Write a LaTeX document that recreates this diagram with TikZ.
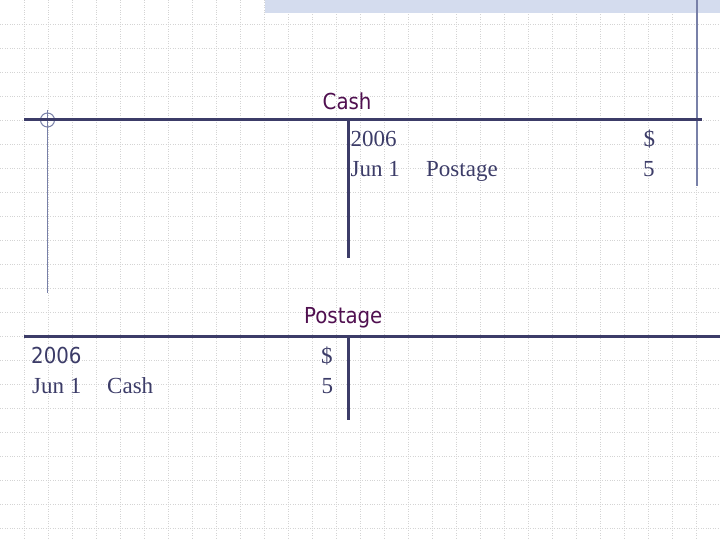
\documentclass[tikz,border=0pt]{standalone}
\usepackage{fontspec}
\setmainfont{Liberation Serif}
\newfontfamily\titlefont{DejaVu Sans Condensed}
\definecolor{navy}{RGB}{60,60,104}
\definecolor{ttl}{RGB}{80,16,80}
\definecolor{thin}{RGB}{120,128,168}
\definecolor{band}{RGB}{212,220,238}
\definecolor{gridc}{RGB}{212,212,212}
\tikzset{
  gridline/.style={draw=gridc, line width=0.6pt, dash pattern=on 1pt off 1.4pt},
  tline/.style={draw=navy, line width=3pt},
  thinline/.style={draw=thin, line width=1.3pt},
  title/.style={inner sep=0pt, anchor=base west, text=ttl, font=\titlefont\fontsize{22}{26}\selectfont},
  entry/.style={inner sep=0pt, anchor=base west, text=navy, font=\fontsize{23}{28}\selectfont},
  sentry/.style={inner sep=0pt, anchor=base west, text=navy, font=\titlefont\fontsize{22}{26}\selectfont}
}
\begin{document}
\begin{tikzpicture}[x=1pt,y=-1pt]
\useasboundingbox (0,0) rectangle (720,540);
% background grid
\foreach \i in {24,48,...,696} \draw[gridline] (\i,0) -- (\i,540);
\foreach \j in {24,48,...,528} \draw[gridline] (0,\j) -- (720,\j);
% top band
\fill[band] (265,0) rectangle (720,13);
% decorative thin lines
\draw[thinline] (697,0) -- (697,186);
\draw[thinline] (47.5,110) -- (47.5,293);
\draw[thinline, line width=1pt] (47.5,120) circle (7);
% Cash T-account
\node[title] (cashT) at (322.5,110) {Cash};
\draw[tline] (24,120) -- (702,120);
\draw[tline] (348,120) -- (348,258);
\node[entry] (c1) at (350.5,147) {2006};
\node[entry] (c2) at (350.5,177) {Jun 1};
\node[entry] (c3) at (426,177) {Postage};
\node[entry] (c4) at (643.5,147) {\$};
\node[entry] (c5) at (643,177) {5};
% Postage T-account
\node[title] (postT) at (304,323.5) {Postage};
\draw[tline] (24,336) -- (720,336);
\draw[tline] (348,336) -- (348,420);
\node[sentry] (p1) at (31,363) {2006};
\node[entry] (p2) at (32,393) {Jun 1};
\node[entry] (p3) at (107,393) {Cash};
\node[entry] (p4) at (321,363) {\$};
\node[entry] (p5) at (321.5,393) {5};
\end{tikzpicture}
\end{document}
